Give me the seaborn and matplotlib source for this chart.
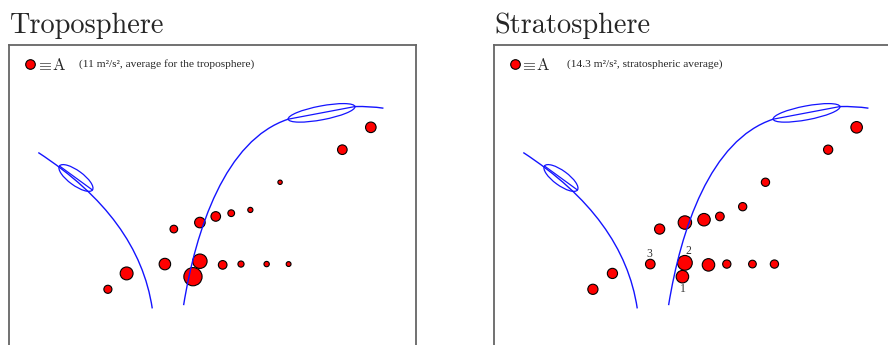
import numpy as np
import pandas as pd
import matplotlib
matplotlib.use("Agg")
import matplotlib.pyplot as plt
from matplotlib.path import Path
from matplotlib.patches import PathPatch, Ellipse
import seaborn as sns

# ---- data -----------------------------------------------------------------
tropo_x = [24.3, 28.9, 38.3, 40.5, 46.9, 50.8, 54.6, 59.3, 66.6, 81.9, 88.9,
           46.9, 45.2, 52.5, 57.0, 63.3, 68.7]
tropo_y = [18.6, 22.5, 24.8, 33.4, 35.0, 36.5, 37.3, 38.1, 44.9, 52.9, 58.4,
           25.5, 21.7, 24.6, 24.8, 24.8, 24.8]
tropo_amp = [7.8, 19.8, 15.8, 7.0, 13.3, 11.0, 5.4, 3.2, 2.3, 11.0, 13.3,
             24.8, 39.7, 8.9, 4.5, 3.4, 2.8]

strato_x = [24.3, 29.1, 38.4, 40.7, 46.9, 51.6, 55.5, 61.1, 66.7, 82.1, 89.1,
            46.9, 46.3, 52.7, 57.2, 63.5, 68.9]
strato_y = [18.6, 22.5, 24.8, 33.4, 35.0, 35.7, 36.5, 38.9, 44.9, 52.9, 58.4,
            25.1, 21.7, 24.6, 24.8, 24.8, 24.8]
strato_amp = [16.1, 16.1, 14.3, 16.1, 28.0, 24.2, 11.6, 10.6, 10.6, 13.2, 20.6,
              33.9, 24.2, 24.2, 10.6, 9.2, 10.6]

# numbered stations in the stratosphere panel: (point index, label)
strato_labels = [(12, "1"), (11, "2"), (2, "3")]

titles = ["Troposphere", "Stratosphere"]
averages = [11.0, 14.3]
notes = ["(11 m²/s², average for the troposphere)",
         "(14.3 m²/s², stratospheric average)"]

# jet axes: control points of the two curves and the lens markers
west_curve = [(7.2, 52.2), (31.9, 36.1), (35.2, 13.9)]             # quadratic
east_curve = [(42.9, 14.7), (45.9, 33.2), (53.1, 55.3), (68.6, 60.4)]  # cubic
east_tail = [(85.0, 63.5), (88.7, 63.6), (92.0, 63.1)]             # quadratic
west_lens = [(12.4, 48.9), (20.5, 43.0)]
east_lens = [(68.6, 60.4), (85.0, 63.5)]

# ---- styling ---------------------------------------------------------------
sns.set_theme(style="white")
plt.rcParams["mathtext.fontset"] = "cm"

W, H = 888, 345
fig = plt.figure(figsize=(W / 100, H / 100), dpi=100)

box_w = 407          # axes width in pixels
box_top = 45         # axes top in pixels from figure top
box_bot = 365        # axes bottom (below the figure edge)
px_per_unit = box_w / 100.0
ymax = (box_bot - box_top) / px_per_unit

legend_r_px = 4.8
legend_s = (2 * legend_r_px * 0.72) ** 2
note_x_px = [79, 567]
lefts = [9, 494]
blue = "#1414ff"


def lens(ax, p, q, thick):
    (x0, y0), (x1, y1) = p, q
    L = np.hypot(x1 - x0, y1 - y0)
    ang = np.degrees(np.arctan2(y1 - y0, x1 - x0))
    ax.add_patch(Ellipse(((x0 + x1) / 2, (y0 + y1) / 2), L, thick, angle=ang,
                         fill=False, edgecolor=blue, lw=0.9, zorder=4))
    ax.plot([x0, x1], [y0, y1], color=blue, lw=0.9, zorder=4)


panels = [(tropo_x, tropo_y, tropo_amp), (strato_x, strato_y, strato_amp)]

for i, (xs, ys, amp) in enumerate(panels):
    left = lefts[i]
    ax = fig.add_axes([left / W, (H - box_bot) / H, box_w / W,
                       (box_bot - box_top) / H])
    ax.set_xlim(0, 100)
    ax.set_ylim(0, ymax)
    ax.set_xticks([])
    ax.set_yticks([])
    for sp in ax.spines.values():
        sp.set_color("#666666")
        sp.set_linewidth(1.3)

    df = pd.DataFrame({"x": xs, "y": ys, "amp": amp})
    k = legend_s / averages[i]
    vmax = 50.0
    sns.scatterplot(data=df, x="x", y="y", size="amp", sizes=(0, k * vmax),
                    size_norm=(0, vmax), color="#ff0000", edgecolor="black",
                    linewidth=0.8, legend=False, ax=ax, zorder=3)
    ax.set_xlabel("")
    ax.set_ylabel("")

    # jet axes
    ax.add_patch(PathPatch(Path(west_curve, [Path.MOVETO, Path.CURVE3, Path.CURVE3]),
                           fill=False, edgecolor=blue, lw=1.0, zorder=4))
    ax.add_patch(PathPatch(Path(east_curve, [Path.MOVETO, Path.CURVE4,
                                             Path.CURVE4, Path.CURVE4]),
                           fill=False, edgecolor=blue, lw=1.0, zorder=4))
    ax.add_patch(PathPatch(Path(east_tail, [Path.MOVETO, Path.CURVE3, Path.CURVE3]),
                           fill=False, edgecolor=blue, lw=1.0, zorder=4))
    lens(ax, *west_lens, thick=3.6)
    lens(ax, *east_lens, thick=3.4)

    # size key
    ax.scatter([(30 - 9) / box_w], [(box_bot - 63.7) / (box_bot - box_top)],
               s=legend_s, color="#ff0000", edgecolor="black", linewidth=0.8,
               transform=ax.transAxes, clip_on=False, zorder=5)
    ax.text((35.5 - 9) / box_w, (box_bot - 70) / (box_bot - box_top),
            r"$\equiv\!\mathrm{A}$", fontsize=12, transform=ax.transAxes,
            va="baseline", ha="left")
    ax.text((note_x_px[i] - left) / box_w, (box_bot - 66.5) / (box_bot - box_top),
            notes[i], fontsize=8.2, family="Liberation Serif",
            transform=ax.transAxes, va="baseline", ha="left")

    fig.text((left + 0.5) / W, 1 - 33 / H, titles[i], fontsize=20.4,
             family="cmr10", va="baseline", ha="left")

    if i == 1:
        offsets = {"1": (0, -12.5), "2": (3.5, 12), "3": (-1, 10)}
        for idx, lab in strato_labels:
            ax.annotate(lab, (xs[idx], ys[idx]), xytext=offsets[lab],
                        textcoords="offset pixels", ha="center", va="center",
                        fontsize=8.4, family="Liberation Serif", color="#333333",
                        zorder=6)

fig.savefig("out.png", dpi=100)
